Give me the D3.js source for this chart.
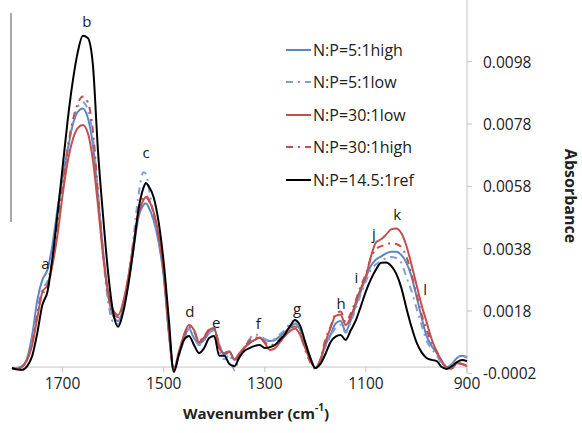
<!DOCTYPE html>
<html>
<head>
<meta charset="utf-8">
<script src="https://cdn.jsdelivr.net/npm/d3@7"></script>
<style>
  body { margin: 0; background: #fff; }
  svg { display: block; font-family: "Open Sans", sans-serif; }
</style>
</head>
<body>
<svg id="chart" width="582" height="433"></svg>
<script>
// wavenumber grid (cm-1)
const wavenumber = [1800, 1790, 1780, 1770, 1760, 1750, 1740, 1730, 1720, 1710,
  1700, 1690, 1680, 1670, 1660, 1650, 1640, 1630, 1620, 1610,
  1600, 1590, 1580, 1570, 1560, 1550, 1540, 1535, 1530, 1520,
  1510, 1500, 1490, 1480, 1470, 1460, 1450, 1440, 1430, 1420,
  1410, 1400, 1390, 1380, 1370, 1360, 1350, 1340, 1330, 1320,
  1310, 1300, 1290, 1280, 1270, 1260, 1250, 1240, 1230, 1220,
  1210, 1200, 1190, 1180, 1170, 1160, 1150, 1140, 1130, 1120,
  1110, 1100, 1090, 1080, 1070, 1060, 1050, 1040, 1030, 1020,
  1010, 1000, 990, 980, 970, 960, 950, 940, 930, 920,
  910, 900];

// absorbance, N:P=5:1 high
const np5high = [-0.00003, -0.00003, 0.00003, 0.00029, 0.00103, 0.00215, 0.00280, 0.00312, 0.00392, 0.00508,
  0.00605, 0.00696, 0.00777, 0.00819, 0.00830, 0.00800, 0.00713, 0.00552, 0.00376, 0.00231,
  0.00164, 0.00148, 0.00190, 0.00273, 0.00376, 0.00479, 0.00520, 0.00526, 0.00514, 0.00472,
  0.00401, 0.00292, 0.00113, -0.00006, 0.00039, 0.00087, 0.00123, 0.00093, 0.00077, 0.00087,
  0.00110, 0.00119, 0.00071, 0.00039, 0.00048, 0.00023, 0.00039, 0.00061, 0.00077, 0.00087,
  0.00093, 0.00087, 0.00084, 0.00087, 0.00100, 0.00113, 0.00126, 0.00140, 0.00119, 0.00077,
  0.00032, -0.00003, 0.00023, 0.00071, 0.00103, 0.00140, 0.00148, 0.00115, 0.00150, 0.00198,
  0.00243, 0.00287, 0.00325, 0.00345, 0.00355, 0.00365, 0.00370, 0.00370, 0.00360, 0.00335,
  0.00292, 0.00228, 0.00161, 0.00100, 0.00068, 0.00045, 0.00016, 0.00000, 0.00010, 0.00029,
  0.00036, 0.00032];

// N:P=5:1 low
const np5low = [-0.00003, -0.00003, 0.00002, 0.00026, 0.00087, 0.00183, 0.00250, 0.00275, 0.00345, 0.00470,
  0.00590, 0.00700, 0.00785, 0.00835, 0.00850, 0.00825, 0.00740, 0.00560, 0.00360, 0.00210,
  0.00145, 0.00138, 0.00185, 0.00285, 0.00410, 0.00550, 0.00625, 0.00620, 0.00580, 0.00490,
  0.00410, 0.00300, 0.00120, -0.00010, 0.00035, 0.00085, 0.00125, 0.00095, 0.00070, 0.00085,
  0.00110, 0.00120, 0.00055, 0.00025, 0.00040, -0.00010, 0.00035, 0.00065, 0.00090, 0.00105,
  0.00100, 0.00090, 0.00085, 0.00090, 0.00105, 0.00120, 0.00140, 0.00150, 0.00120, 0.00070,
  0.00025, -0.00005, 0.00020, 0.00065, 0.00100, 0.00125, 0.00135, 0.00110, 0.00145, 0.00188,
  0.00233, 0.00275, 0.00310, 0.00330, 0.00340, 0.00350, 0.00353, 0.00350, 0.00335, 0.00290,
  0.00245, 0.00190, 0.00135, 0.00085, 0.00058, 0.00038, 0.00010, -0.00003, 0.00010, 0.00030,
  0.00035, 0.00030];

// N:P=30:1 low
const np30low = [-0.00006, -0.00006, 0.00000, 0.00023, 0.00071, 0.00157, 0.00241, 0.00263, 0.00328, 0.00424,
  0.00552, 0.00658, 0.00729, 0.00767, 0.00777, 0.00751, 0.00664, 0.00520, 0.00360, 0.00241,
  0.00183, 0.00167, 0.00209, 0.00289, 0.00392, 0.00488, 0.00536, 0.00546, 0.00536, 0.00498,
  0.00424, 0.00305, 0.00119, -0.00009, 0.00048, 0.00103, 0.00135, 0.00119, 0.00080, 0.00095,
  0.00119, 0.00125, 0.00060, 0.00045, 0.00050, 0.00025, 0.00045, 0.00064, 0.00077, 0.00087,
  0.00095, 0.00077, 0.00055, 0.00060, 0.00080, 0.00100, 0.00116, 0.00124, 0.00103, 0.00061,
  0.00023, -0.00003, 0.00023, 0.00080, 0.00125, 0.00164, 0.00168, 0.00135, 0.00160, 0.00208,
  0.00253, 0.00292, 0.00355, 0.00400, 0.00410, 0.00425, 0.00442, 0.00445, 0.00430, 0.00390,
  0.00330, 0.00265, 0.00200, 0.00145, 0.00090, 0.00050, 0.00020, -0.00002, -0.00005, 0.00012,
  0.00010, 0.00003];

// N:P=30:1 high
const np30high = [-0.00005, -0.00005, 0.00001, 0.00025, 0.00080, 0.00170, 0.00235, 0.00250, 0.00335, 0.00450,
  0.00580, 0.00700, 0.00790, 0.00845, 0.00868, 0.00850, 0.00760, 0.00560, 0.00370, 0.00235,
  0.00170, 0.00160, 0.00205, 0.00285, 0.00395, 0.00495, 0.00545, 0.00550, 0.00540, 0.00495,
  0.00420, 0.00310, 0.00125, -0.00005, 0.00045, 0.00100, 0.00130, 0.00115, 0.00085, 0.00100,
  0.00120, 0.00125, 0.00070, 0.00045, 0.00050, 0.00020, 0.00040, 0.00065, 0.00085, 0.00095,
  0.00095, 0.00080, 0.00070, 0.00075, 0.00090, 0.00110, 0.00125, 0.00130, 0.00105, 0.00055,
  0.00015, -0.00005, 0.00025, 0.00090, 0.00130, 0.00170, 0.00178, 0.00145, 0.00172, 0.00215,
  0.00260, 0.00300, 0.00350, 0.00378, 0.00388, 0.00393, 0.00398, 0.00395, 0.00385, 0.00355,
  0.00300, 0.00235, 0.00170, 0.00120, 0.00080, 0.00050, 0.00020, 0.00000, -0.00003, 0.00015,
  0.00010, 0.00005];

// N:P=14.5:1 reference
const np145ref = [-0.00003, -0.00008, -0.00009, 0.00003, 0.00036, 0.00109, 0.00199, 0.00241, 0.00350, 0.00490,
  0.00640, 0.00790, 0.00915, 0.01010, 0.01063, 0.01056, 0.00970, 0.00696, 0.00488, 0.00305,
  0.00177, 0.00129, 0.00177, 0.00263, 0.00376, 0.00504, 0.00575, 0.00591, 0.00581, 0.00546,
  0.00466, 0.00337, 0.00158, -0.00016, 0.00039, 0.00087, 0.00100, 0.00071, 0.00045, 0.00061,
  0.00093, 0.00100, 0.00036, 0.00036, 0.00010, 0.00003, 0.00032, 0.00052, 0.00061, 0.00068,
  0.00071, 0.00061, 0.00064, 0.00071, 0.00087, 0.00106, 0.00132, 0.00151, 0.00132, 0.00080,
  0.00029, -0.00003, 0.00010, 0.00042, 0.00080, 0.00098, 0.00103, 0.00087, 0.00118, 0.00150,
  0.00195, 0.00243, 0.00282, 0.00313, 0.00335, 0.00336, 0.00325, 0.00300, 0.00255, 0.00190,
  0.00130, 0.00080, 0.00048, 0.00029, 0.00023, 0.00019, 0.00000, -0.00006, 0.00003, 0.00016,
  0.00023, 0.00019];

const seriesNames = ["N:P=5:1high", "N:P=5:1low", "N:P=30:1low", "N:P=30:1high", "N:P=14.5:1ref"];
const seriesValues = [np5high, np5low, np30low, np30high, np145ref];
const seriesColors = ["#5a86c6", "#7f9fd6", "#c0504d", "#c0504d", "#000000"];
const seriesDash = [null, "7,5,2,5", null, "7,5,2,5", null];

const xTicks = [1700, 1500, 1300, 1100, 900];
const yTicks = [-0.0002, 0.0018, 0.0038, 0.0058, 0.0078, 0.0098];

// peak letters: [label, wavenumber, absorbance]
const peakLabels = [
  ["a", 1734, 0.00335], ["b", 1652, 0.01110], ["c", 1535, 0.00690],
  ["d", 1448, 0.00180], ["e", 1396, 0.00145], ["f", 1313, 0.00140],
  ["g", 1236, 0.00190], ["h", 1149, 0.00205], ["i", 1119, 0.00290],
  ["j", 1084, 0.00430], ["k", 1038, 0.00490], ["l", 983, 0.00250]
];

const svg = d3.select("#chart");

const x = d3.scaleLinear().domain([1800, 900]).range([12, 467]);
const y = d3.scaleLinear().domain([-0.0002, 0.0118]).range([373.3, -0.6]);

// stray left line from the original figure
svg.append("line")
  .attr("x1", 11).attr("x2", 11).attr("y1", 13).attr("y2", 222)
  .attr("stroke", "#8c8c8c").attr("stroke-width", 1.5);

// bottom axis crosses at zero
svg.append("line")
  .attr("x1", x(1800)).attr("x2", x(900)).attr("y1", y(0)).attr("y2", y(0))
  .attr("stroke", "#c4c4c4").attr("stroke-width", 1);
svg.selectAll("line.xtick")
  .data(xTicks)
  .enter().append("line")
    .attr("class", "xtick")
    .attr("x1", d => x(d)).attr("x2", d => x(d))
    .attr("y1", y(0)).attr("y2", y(0) + 5)
    .attr("stroke", "#c4c4c4");
svg.selectAll("text.xlab")
  .data(xTicks)
  .enter().append("text")
    .attr("class", "xlab")
    .attr("x", d => x(d))
    .attr("y", 383)
    .attr("text-anchor", "middle")
    .attr("dominant-baseline", "central")
    .style("font-size", "15.5px")
    .attr("fill", "#222")
    .text(d => d);

// right axis
svg.append("line")
  .attr("x1", x(900)).attr("x2", x(900)).attr("y1", y(0.0118)).attr("y2", y(-0.0002))
  .attr("stroke", "#c4c4c4");
svg.selectAll("line.ytick")
  .data(yTicks)
  .enter().append("line")
    .attr("class", "ytick")
    .attr("x1", x(900)).attr("x2", x(900) + 5)
    .attr("y1", d => y(d)).attr("y2", d => y(d))
    .attr("stroke", "#c4c4c4");
svg.selectAll("text.ylab")
  .data(yTicks)
  .enter().append("text")
    .attr("class", "ylab")
    .attr("x", 483)
    .attr("y", d => y(d))
    .attr("dominant-baseline", "central")
    .style("font-size", "15.5px")
    .attr("fill", "#222")
    .text(d => d.toFixed(4));

// spectra
const line = d3.line()
  .x((d, i) => x(wavenumber[i]))
  .y(d => y(d))
  .curve(d3.curveMonotoneX);

seriesValues.forEach((vals, k) => {
  svg.append("path")
    .datum(vals)
    .attr("d", line)
    .attr("fill", "none")
    .attr("stroke", seriesColors[k])
    .attr("stroke-width", 2)
    .attr("stroke-linejoin", "round")
    .attr("stroke-dasharray", seriesDash[k]);
});

// peak letters
svg.selectAll("text.peak")
  .data(peakLabels)
  .enter().append("text")
    .attr("class", "peak")
    .attr("x", d => x(d[1]))
    .attr("y", d => y(d[2]))
    .attr("text-anchor", "middle")
    .attr("dominant-baseline", "central")
    .style("font-size", "15px")
    .attr("fill", "#1a1a1a")
    .text(d => d[0]);

// legend
const legendY = [50, 82, 115, 147, 180];
const legend = svg.append("g");
seriesNames.forEach((name, k) => {
  legend.append("line")
    .attr("x1", 286).attr("x2", 311)
    .attr("y1", legendY[k]).attr("y2", legendY[k])
    .attr("stroke", seriesColors[k])
    .attr("stroke-width", 2)
    .attr("stroke-dasharray", seriesDash[k]);
  legend.append("text")
    .attr("x", 313)
    .attr("y", legendY[k])
    .attr("dominant-baseline", "central")
    .style("font-size", "16px")
    .attr("fill", "#222")
    .text(name);
});

// axis titles
svg.append("text")
  .attr("transform", "translate(571,196) rotate(90)")
  .attr("text-anchor", "middle")
  .attr("dominant-baseline", "central")
  .style("font-size", "16px")
  .style("font-weight", "bold")
  .attr("fill", "#222")
  .text("Absorbance");

const xt = svg.append("text")
  .attr("x", 256)
  .attr("y", 413)
  .attr("text-anchor", "middle")
  .attr("dominant-baseline", "central")
  .style("font-size", "15px")
  .style("font-weight", "bold")
  .attr("fill", "#222");
xt.append("tspan").text("Wavenumber (cm");
xt.append("tspan").attr("dy", -6).style("font-size", "10px").text("-1");
xt.append("tspan").attr("dy", 6).text(")");
</script>
</body>
</html>
